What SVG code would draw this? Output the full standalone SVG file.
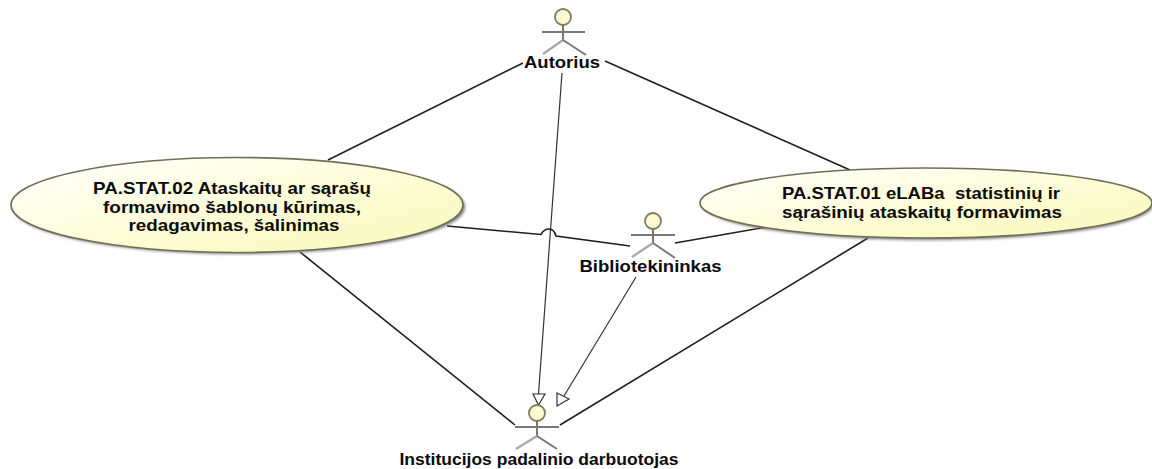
<svg xmlns="http://www.w3.org/2000/svg" width="1152" height="469" viewBox="0 0 1152 469">
<style>
.t{font-family:"Liberation Sans",Arial,sans-serif;font-weight:700;font-size:16.500px;fill:#0c0c0c;text-anchor:middle}
.c{fill:none;stroke:#1e1e1e;stroke-width:1.600}
.c2{fill:none;stroke:#333;stroke-width:1.200}
.h{fill:#fff;stroke:#333;stroke-width:1.200}
.e{fill:url(#g);stroke:#6f6f55;stroke-width:1.600}
.s{fill:#777;filter:url(#b)}
.hd{fill:#fbfbd2;stroke:#7d7d5e;stroke-width:1.800}
.a{fill:none;stroke:#777;stroke-width:2}
.a2{fill:none;stroke:#aaa;stroke-width:2.400}
</style>
<defs>
<linearGradient id="g" x1="0" y1="0" x2="1" y2="1"><stop offset="0" stop-color="#ffffff"/><stop offset="0.55" stop-color="#fdfdd6"/><stop offset="1" stop-color="#f8f8b8"/></linearGradient>
<filter id="b" x="-5%" y="-10%" width="110%" height="120%"><feGaussianBlur stdDeviation="1.500"/></filter>
</defs>
<rect width="1152" height="469" fill="#fff"/>
<g id="connectors">
<path class="c" d="M523 63L328 160"/>
<path class="c" d="M605 61L850 170"/>
<path class="c2" d="M562 73L538.500 394"/>
<path class="h" d="M533 394H545L538.500 405Z"/>
<path class="c2" d="M636 277L564 396"/>
<path class="h" d="M557 393L569 399L557 406Z"/>
<path class="c" d="M300 252L515 425"/>
<path class="c" d="M868 238L560 425"/>
<path class="c" d="M447 226L541 234.500Q544 229 549 229Q554 229 556 236L630 246"/>
<path class="c" d="M675 243L767 227"/>
</g>
<g id="uc-02">
<ellipse class="s" cx="239" cy="207" rx="226" ry="47"/>
<ellipse class="e" cx="237" cy="205" rx="226" ry="47.500"/>
<text class="t" x="232" y="194" textLength="278" lengthAdjust="spacingAndGlyphs">PA.STAT.02 Ataskaitų ar sąrašų</text>
<text class="t" x="232" y="213" textLength="258" lengthAdjust="spacingAndGlyphs">formavimo šablonų kūrimas,</text>
<text class="t" x="234" y="231" textLength="211" lengthAdjust="spacingAndGlyphs">redagavimas, šalinimas</text>
</g>
<g id="uc-01">
<ellipse class="s" cx="928" cy="205" rx="225" ry="35"/>
<ellipse class="e" cx="926" cy="203" rx="226" ry="35"/>
<text class="t" x="921" y="199" textLength="278" lengthAdjust="spacingAndGlyphs" xml:space="preserve">PA.STAT.01 eLABa  statistinių ir</text>
<text class="t" x="922" y="218" textLength="280" lengthAdjust="spacingAndGlyphs">sąrašinių ataskaitų formavimas</text>
</g>
<g id="actor-autorius">
<circle class="hd" cx="563" cy="17" r="8"/>
<path class="a" d="M563 25V40"/>
<path class="a" d="M542 32H585"/>
<path class="a2" d="M563 40L543 54"/>
<path class="a" d="M563 40L586 55"/>
<text class="t" x="562" y="68" textLength="76" lengthAdjust="spacingAndGlyphs">Autorius</text>
</g>
<g id="actor-bibliotekininkas">
<circle class="hd" cx="653" cy="221" r="8"/>
<path class="a" d="M653 229V243"/>
<path class="a" d="M631 235H675"/>
<path class="a2" d="M653 243L632 257"/>
<path class="a" d="M653 243L675 258"/>
<text class="t" x="650.500" y="272" textLength="142" lengthAdjust="spacingAndGlyphs">Bibliotekininkas</text>
</g>
<g id="actor-institucijos">
<circle class="hd" cx="537" cy="413" r="8"/>
<path class="a" d="M537 421V436"/>
<path class="a" d="M515 427H559"/>
<path class="a2" d="M537 436L516 449"/>
<path class="a" d="M537 436L557 449"/>
<text class="t" x="539" y="465" textLength="279" lengthAdjust="spacingAndGlyphs">Institucijos padalinio darbuotojas</text>
</g>
</svg>
